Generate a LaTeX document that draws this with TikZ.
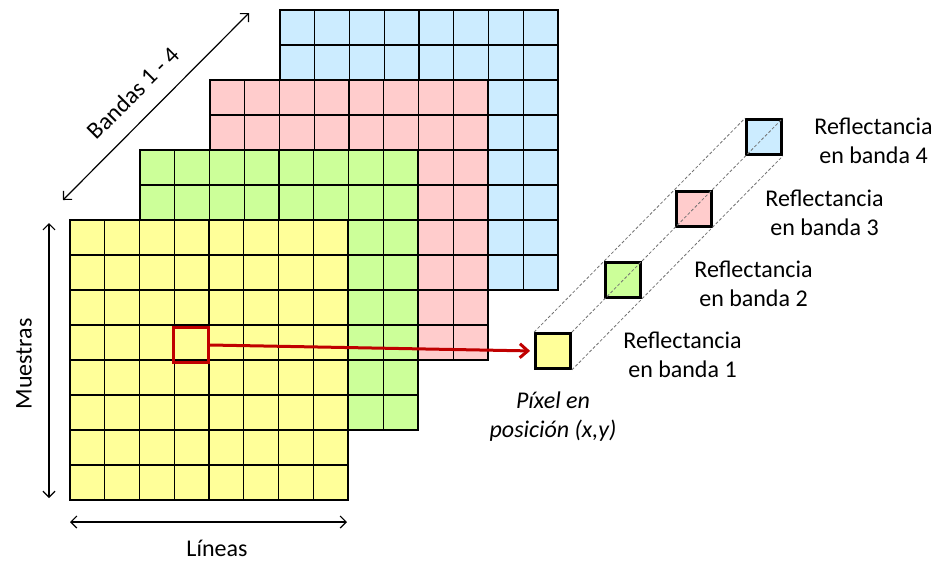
\documentclass[tikz,border=0pt]{standalone}
\usepackage{fontspec}
\setmainfont{Carlito}
\usetikzlibrary{arrows.meta,positioning}

\definecolor{bandone}{HTML}{FFFF99}
\definecolor{bandtwo}{HTML}{CCFF99}
\definecolor{bandthree}{HTML}{FFCCCC}
\definecolor{bandfour}{HTML}{CCECFF}
\definecolor{pixred}{HTML}{C00000}

\tikzset{
  frame/.style={line width=2.5pt},
  cellline/.style={line width=1.4pt},
  pixelbox/.style={draw, line width=2.8pt, minimum size=35pt, inner sep=0pt},
  dimarrow/.style={{Straight Barb[length=6pt,width=12pt]}-{Straight Barb[length=6pt,width=12pt]}, line width=1.2pt},
  guide/.style={draw=gray!90!black, dash pattern=on 3pt off 2pt, line width=0.8pt},
  reflabel/.style={align=center, yshift=-4pt}
}

\begin{document}
\begin{tikzpicture}[x=1pt, y=-1pt, font=\fontsize{24}{29}\selectfont]
  \useasboundingbox (0,0) rectangle (934,563);

  % the four bands, from back to front
  \foreach \col/\k in {bandfour/3, bandthree/2, bandtwo/1, bandone/0} {
    \begin{scope}[shift={(70*\k,-70*\k)}]
      \fill[\col] (70,220) rectangle (348,500);
      \foreach \i in {1,...,7} {
        \draw[cellline] (70+34.75*\i,220) -- (70+34.75*\i,500);
        \draw[cellline] (70,220+35*\i) -- (348,220+35*\i);
      }
      \draw[frame] (70,220) rectangle (348,500);
    \end{scope}
  }

  % selected pixel
  \node[pixelbox, draw=pixred] (selpix) at (191,345) {};

  % pixel values through the bands
  \node[pixelbox, fill=bandone] (pxone) at (553,351) {};
  \node[pixelbox, fill=bandtwo] (pxtwo) at (623,280) {};
  \node[pixelbox, fill=bandthree] (pxthree) at (694,209) {};
  \node[pixelbox, fill=bandfour] (pxfour) at (764,137) {};

  \draw[guide] (pxone.north west) -- (pxfour.north west);
  \draw[guide] (pxone.north east) -- (pxfour.north east);
  \draw[guide] (pxone.south east) -- (pxfour.south east);

  \node[reflabel, right=48pt of pxone] (refone) {Reflectancia\\en banda 1};
  \node[reflabel, right=49pt of pxtwo] (reftwo) {Reflectancia\\en banda 2};
  \node[reflabel, right=49pt of pxthree] (refthree) {Reflectancia\\en banda 3};
  \node[reflabel, right=28pt of pxfour] (reffour) {Reflectancia\\en banda 4};

  \node[align=center, below=18pt of pxone, font=\fontsize{24}{29}\selectfont\itshape] (pixpos) {Píxel en\\posición (x,y)};

  \draw[pixred, line width=3pt, -{Straight Barb[length=8pt,width=14pt]}, shorten >=4pt] (selpix.east) -- (pxone.west);

  % axes
  \coordinate (mtop) at (49,223);
  \coordinate (mbot) at (49,498);
  \draw[dimarrow] (mtop) -- (mbot);
  \node[rotate=90] (muestras) at (24,364) {Muestras};

  \coordinate (lleft) at (70,522);
  \coordinate (lright) at (347,522);
  \draw[dimarrow] (lleft) -- (lright);
  \node (lineas) at (217,548) {Líneas};

  \coordinate (bfront) at (63,200);
  \coordinate (bback) at (249,13);
  \draw[dimarrow] (bfront) -- (bback);
  \node[rotate=45] (bandas) at (133,93) {Bandas 1 - 4};
\end{tikzpicture}
\end{document}
